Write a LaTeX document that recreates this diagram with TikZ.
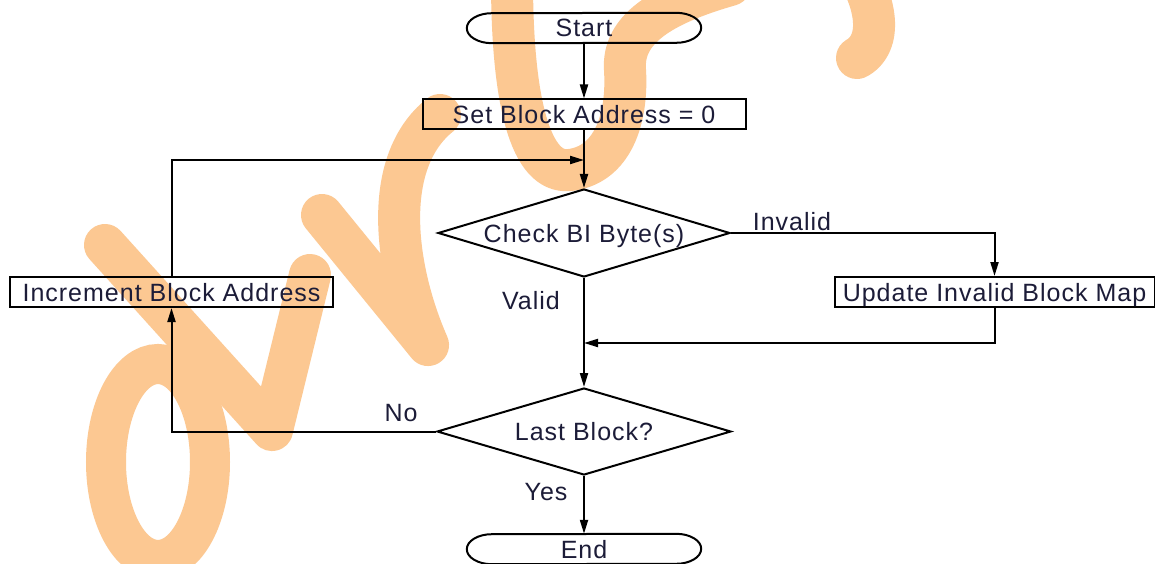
\documentclass[tikz,border=0pt]{standalone}
\usepackage{fontspec}
\setmainfont[LetterSpace=4]{Liberation Sans}
\usetikzlibrary{arrows.meta,shapes.geometric}
\definecolor{wm}{RGB}{252,200,146}
\definecolor{txt}{RGB}{28,28,56}
\begin{document}
\begin{tikzpicture}[x=1pt,y=1pt,
  every node/.style={font=\fontsize{25}{30}\selectfont, text=txt, inner sep=0pt},
  procbox/.style={draw=black, line width=2pt, minimum width=323pt, minimum height=30pt, text height=18pt, text depth=0pt},
  decision/.style={diamond, draw=black, line width=2pt, minimum width=292pt, minimum height=88pt, text height=18pt, text depth=0pt},
  term/.style={minimum width=234pt, minimum height=30pt, text height=18pt, text depth=0pt},
  conn/.style={draw=black, line width=2pt, -{Triangle[length=14pt,width=8pt]}},
  plain/.style={draw=black, line width=2pt},
  lbl/.style={text height=18pt, text depth=0pt},
  wmstroke/.style={draw=wm, line width=42pt, line cap=round, line join=round}
]
\useasboundingbox (0,0) rectangle (1155,563);
\fill[white] (0,0) rectangle (1155,563);

% watermark strokes
\draw[wmstroke] (105,318) -- (272,133) -- (310,288);
\draw[draw=wm, line width=40pt] (158,101) ellipse [x radius=52, y radius=98];
\draw[wmstroke] (322,348) -- (428,218) .. controls (395,293) and (380,400) .. (440,448);
\draw[wmstroke] (512,583) .. controls (512,463) and (530,388) .. (570,393) .. controls (612,398) and (628,443) .. (625,493) .. controls (622,533) and (660,558) .. (730,578);
\draw[wmstroke] (866,573) .. controls (880,540) and (875,515) .. (857,505);

% nodes
\node[term] (start) at (584,535) {Start};
\draw[plain] ([xshift=-25pt]start.north east) arc[start angle=90,end angle=-90,x radius=25pt,y radius=15pt] -- ([xshift=25pt]start.south west) arc[start angle=270,end angle=90,x radius=25pt,y radius=15pt] -- cycle;
\node[procbox] (set) at (584,448.5) {Set Block Address = 0};
\node[decision] (check) at (584,330) {\makebox[0pt]{Check BI Byte(s)}};
\node[procbox] (inc) at (171.5,271) {Increment Block Address};
\node[procbox, minimum width=320pt] (upd) at (994.5,271) {Update Invalid Block Map};
\node[decision, minimum width=294pt, minimum height=87pt] (last) at (584,131.5) {\makebox[0pt]{Last Block?}};
\node[term] (end) at (584,14) {End};
\draw[plain] ([xshift=-25pt]end.north east) arc[start angle=90,end angle=-90,x radius=25pt,y radius=15pt] -- ([xshift=25pt]end.south west) arc[start angle=270,end angle=90,x radius=25pt,y radius=15pt] -- cycle;

\coordinate (m1) at (584,403);
\coordinate (m2) at (584,220);

% connectors
\draw[conn] (start) -- (set);
\draw[conn] (set) -- (check);
\draw[conn] (inc.north) |- (m1);
\draw[conn] (check.east) -| (upd.north);
\draw[conn] (upd.south) |- (m2);
\draw[conn] (check.south) -- (last.north);
\draw[conn] (last.west) -| (inc.south);
\draw[conn] (last.south) -- (end.north);

% labels
\node[lbl] (linv) at (792,342) {Invalid};
\node[lbl] (lval) at (531,263) {Valid};
\node[lbl] (lno) at (401,151) {No};
\node[lbl] (lyes) at (546,72) {Yes};
\end{tikzpicture}
\end{document}
